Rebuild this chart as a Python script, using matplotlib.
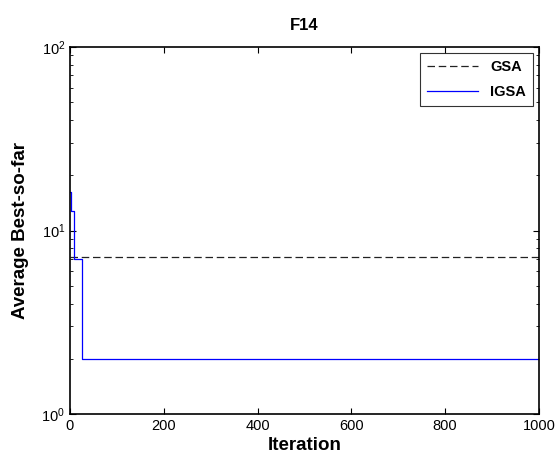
import matplotlib
matplotlib.use("Agg")
import matplotlib.pyplot as plt
import numpy as np

plt.rcParams['font.family'] = ['Liberation Sans', 'DejaVu Sans']

# step-like convergence curves (iteration, value)
gsa_iter = [1, 1000]
gsa_vals = [7.2, 7.2]
igsa_iter = [1, 2, 9, 25, 1000]
igsa_vals = [16.3, 12.8, 7.0, 2.0, 2.0]

x_ticks = [0, 200, 400, 600, 800, 1000]

fig = plt.figure(figsize=(5.58, 4.55), dpi=100)
ax = fig.add_axes([0.1254, 0.0901, 0.8405, 0.8066])

ax.step(gsa_iter, gsa_vals, where='post', color='#222222', linestyle=(0, (6, 3)),
        linewidth=0.9, label='GSA')
ax.step(igsa_iter, igsa_vals, where='post', color='blue', linewidth=0.9, label='IGSA')

ax.set_yscale('log')
ax.set_ylim(1, 100)
ax.set_xlim(0, 1000)
ax.set_xticks(x_ticks)
ax.tick_params(which='both', direction='in', top=True, right=True, labelsize=10.5)
ax.tick_params(which='major', length=4)
ax.tick_params(which='minor', length=2)
for s in ax.spines.values():
    s.set_linewidth(1.2)

ax.set_title('F14', fontweight='bold', fontsize=12, pad=12)
ax.set_xlabel('Iteration', fontweight='bold', fontsize=13.5, labelpad=3)
ax.set_ylabel('Average Best-so-far', fontweight='bold', fontsize=13.5, labelpad=9)

leg = ax.legend(loc='upper right', fancybox=False, edgecolor='black',
                prop={'weight': 'bold', 'size': 10.5}, handlelength=3.5,
                borderaxespad=0.4, labelspacing=0.75, borderpad=0.5)
leg.get_frame().set_linewidth(0.8)

fig.savefig('out.png', dpi=100)
